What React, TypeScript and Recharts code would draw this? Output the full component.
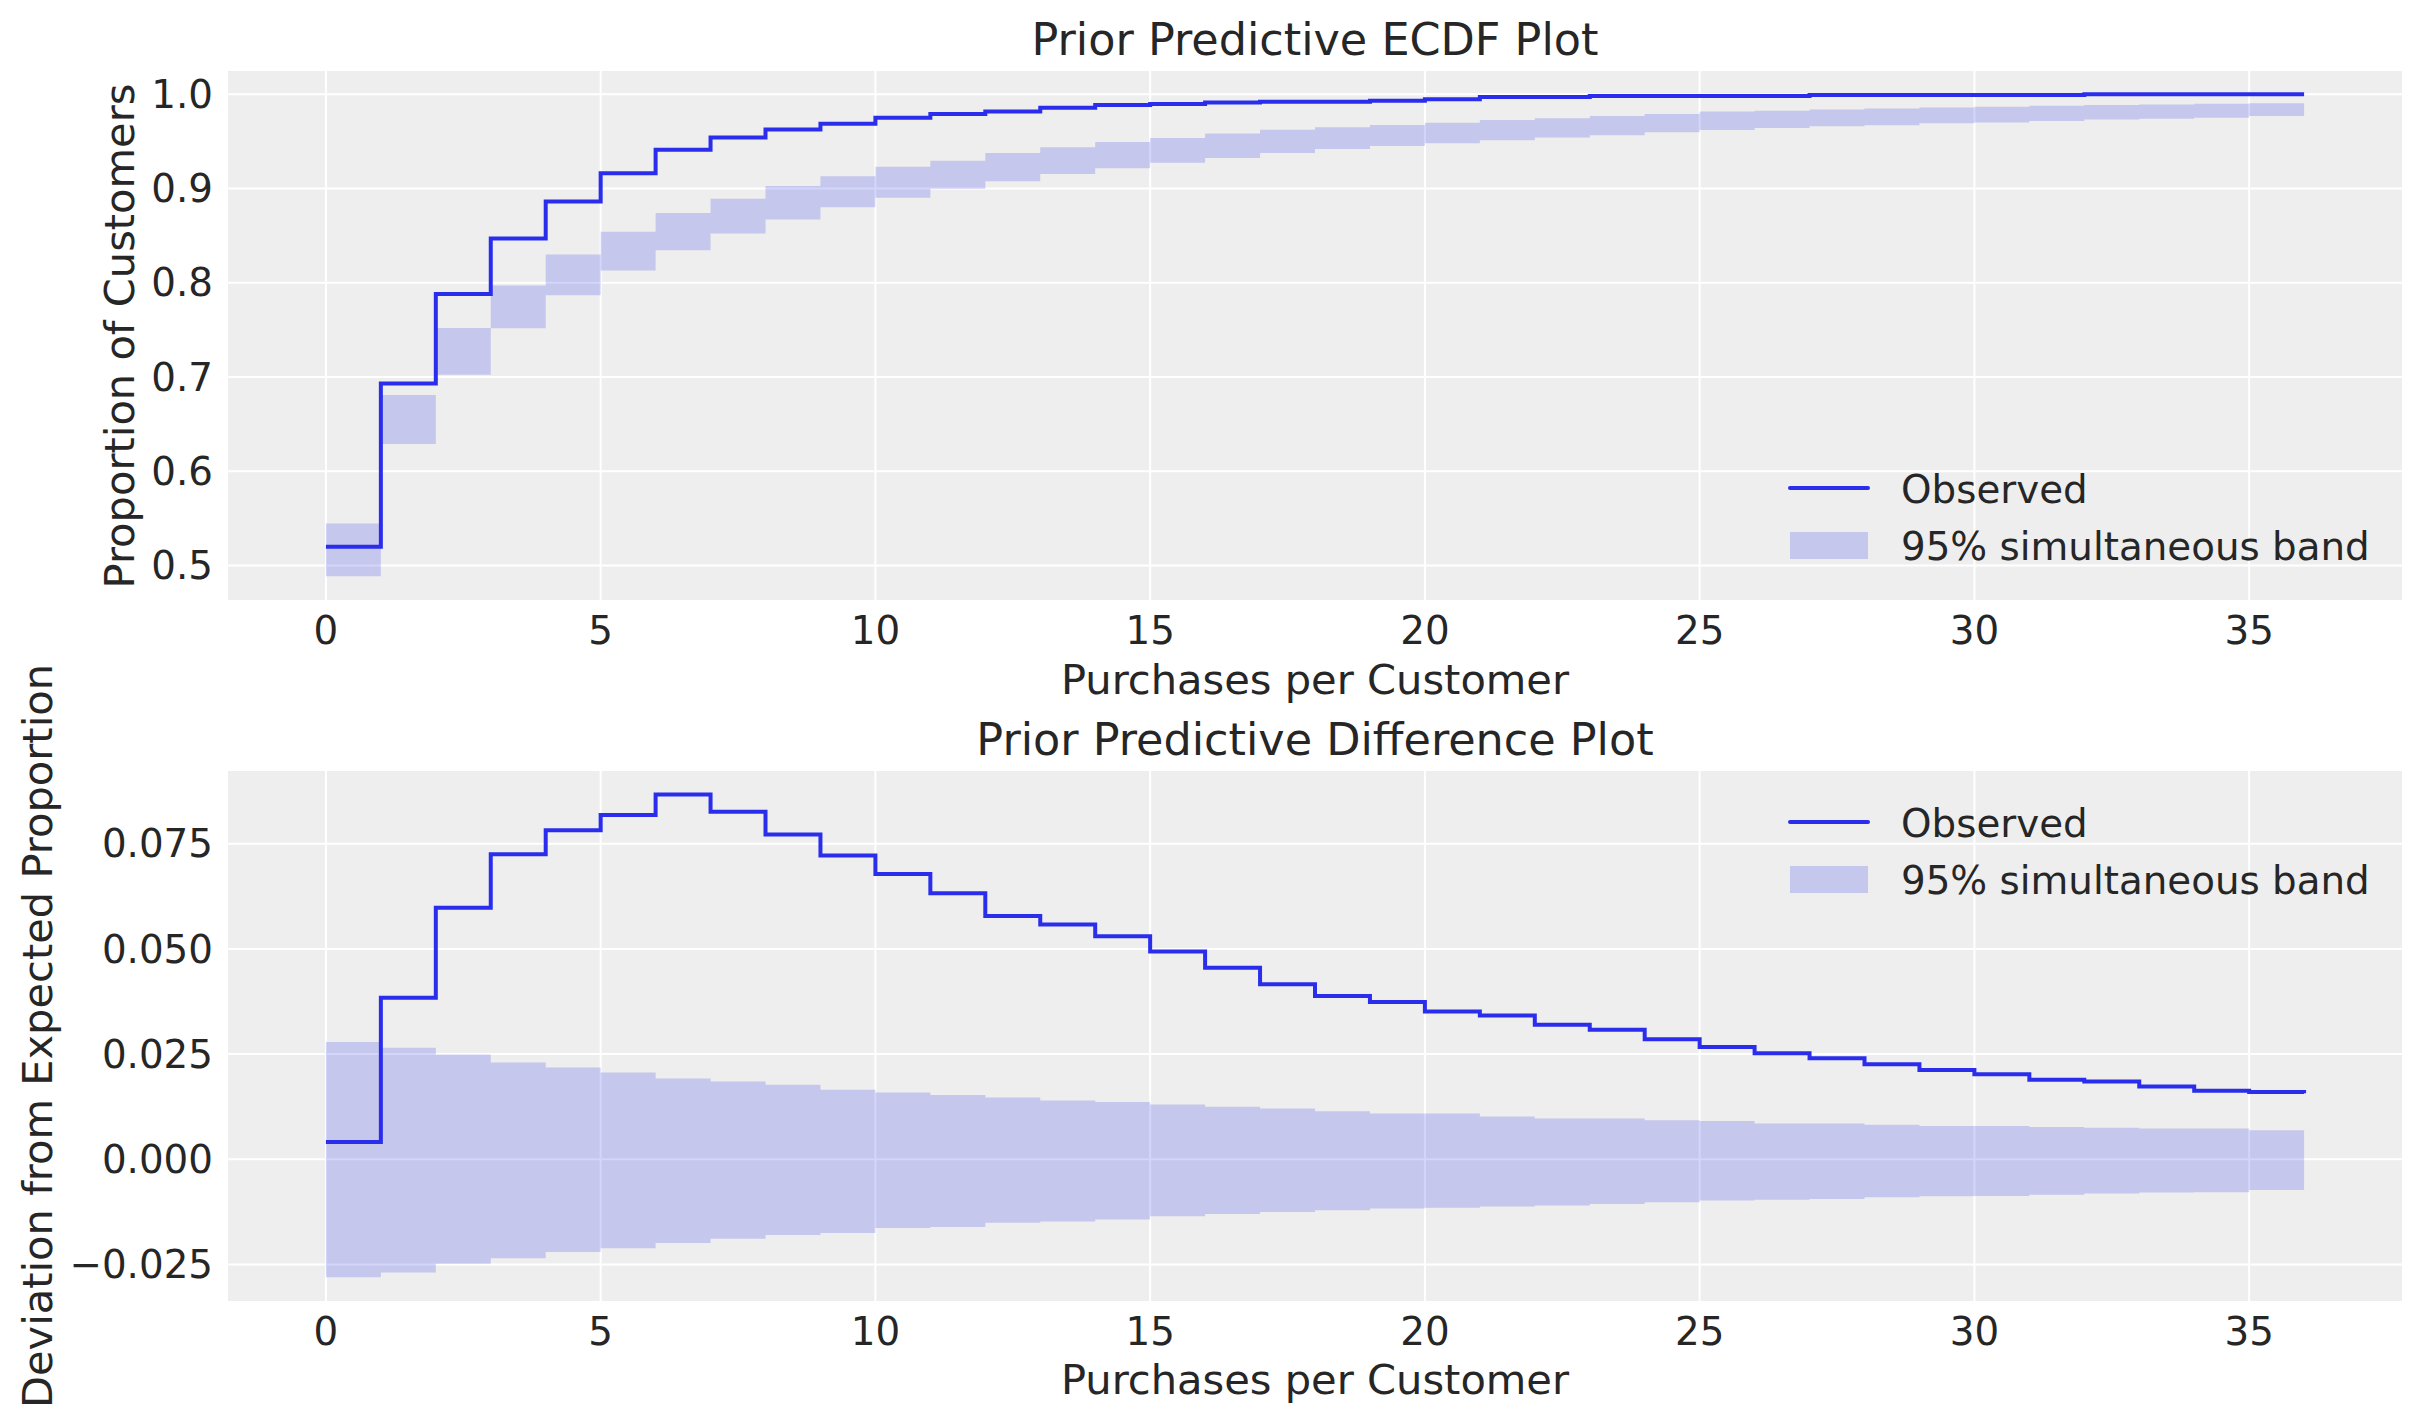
import React from "react";
import {
  ComposedChart,
  Area,
  Line,
  XAxis,
  YAxis,
  CartesianGrid,
} from "recharts";

// purchases per customer (step positions)
const purchases = [
  0, 1, 2, 3, 4, 5, 6, 7, 8, 9, 10, 11, 12, 13, 14, 15, 16, 17, 18, 19, 20,
  21, 22, 23, 24, 25, 26, 27, 28, 29, 30, 31, 32, 33, 34, 35, 36,
];

// top panel: ECDF
const ecdfObserved = [
  0.52, 0.693, 0.788, 0.847, 0.886, 0.916, 0.941, 0.954, 0.9625, 0.9687,
  0.975, 0.979, 0.9815, 0.9855, 0.9886, 0.9895, 0.991, 0.992, 0.992, 0.993,
  0.9945, 0.997, 0.997, 0.998, 0.998, 0.998, 0.998, 0.999, 0.999, 0.999,
  0.999, 0.999, 1.0, 1.0, 1.0, 1.0, 1.0,
];
const ecdfBandLow = [
  0.4887, 0.629, 0.7025, 0.7516, 0.7866, 0.813, 0.8344, 0.8523, 0.867, 0.88,
  0.89, 0.8997, 0.9077, 0.9153, 0.9214, 0.9271, 0.9323, 0.9375, 0.9417,
  0.945, 0.9479, 0.9512, 0.954, 0.9564, 0.9597, 0.962, 0.964, 0.966, 0.967,
  0.969, 0.97, 0.9716, 0.973, 0.974, 0.975, 0.9767, 0.9767,
];
const ecdfBandHigh = [
  0.5445, 0.681, 0.752, 0.797, 0.83, 0.854, 0.874, 0.889, 0.9025, 0.913,
  0.923, 0.9294, 0.9375, 0.9436, 0.9493, 0.9536, 0.9583, 0.9621, 0.9649,
  0.9673, 0.9696, 0.9725, 0.9744, 0.9767, 0.979, 0.9815, 0.9824, 0.9838,
  0.9848, 0.9857, 0.9867, 0.9876, 0.9886, 0.989, 0.9898, 0.9903, 0.9903,
];

// bottom panel: difference from expected
const diffObserved = [
  0.0041, 0.0384, 0.0598, 0.0725, 0.0782, 0.0818, 0.0867, 0.0826, 0.0772,
  0.0722, 0.0678, 0.0632, 0.0578, 0.0558, 0.053, 0.0494, 0.0455, 0.0416,
  0.0388, 0.0374, 0.0351, 0.0342, 0.032, 0.0308, 0.0285, 0.0267, 0.0252,
  0.024, 0.0226, 0.0212, 0.0202, 0.0189, 0.0185, 0.0173, 0.0163, 0.016,
  0.0157,
];
const diffBandHigh = [
  0.0279, 0.0265, 0.0249, 0.023, 0.0218, 0.0206, 0.0192, 0.0185, 0.0177,
  0.0165, 0.0159, 0.0153, 0.0147, 0.014, 0.0136, 0.013, 0.0125, 0.0121,
  0.0114, 0.0109, 0.0109, 0.0102, 0.0097, 0.0097, 0.0093, 0.0091, 0.0085,
  0.0085, 0.0082, 0.0079, 0.0079, 0.0077, 0.0075, 0.0073, 0.0073, 0.0069,
  0.0069,
];
const diffBandLow = [
  -0.028, -0.0269, -0.0248, -0.0235, -0.022, -0.0211, -0.0199, -0.0189,
  -0.018, -0.0175, -0.0163, -0.0161, -0.0151, -0.0148, -0.0143, -0.0135,
  -0.013, -0.0125, -0.0121, -0.0117, -0.0115, -0.0112, -0.011, -0.0106,
  -0.0102, -0.0098, -0.0096, -0.0094, -0.009, -0.0088, -0.0087, -0.0084,
  -0.0081, -0.0079, -0.0078, -0.0073, -0.0073,
];

const xTicks = [0, 5, 10, 15, 20, 25, 30, 35];
const ecdfTicks = [0.5, 0.6, 0.7, 0.8, 0.9, 1.0];
const diffTicks = [-0.025, 0, 0.025, 0.05, 0.075];

const BLUE = "#2a2eec";
const TEXT = "#262626";
const FONT = "DejaVu Sans";
const TICK_SIZE = 38.8;
const LABEL_SIZE = 41.6;
const TITLE_SIZE = 44.5;

const ecdfData = purchases.map((x, i) => ({
  x,
  observed: ecdfObserved[i],
  band: [ecdfBandLow[i], ecdfBandHigh[i]],
}));

const diffData = purchases.map((x, i) => ({
  x,
  observed: diffObserved[i],
  band: [diffBandLow[i], diffBandHigh[i]],
}));

const tickStyle = { fontSize: TICK_SIZE, fill: TEXT, fontFamily: FONT };

function fmtDiff(v: number) {
  const s = Math.abs(v).toFixed(3);
  return v < 0 ? "\u2212" + s : s;
}

function Panel({
  data,
  domain,
  ticks,
  fmt,
  height,
  marginBottom,
}: {
  data: any[];
  domain: [number, number];
  ticks: number[];
  fmt: (v: number) => string;
  height: number;
  marginBottom: number;
}) {
  return (
    <ComposedChart
      width={2423}
      height={height}
      data={data}
      margin={{ top: 70, right: 20, left: 107, bottom: marginBottom }}
    >
      <CartesianGrid
        stroke="#ffffff"
        strokeWidth={2}
        fill="#eeeeee"
        fillOpacity={1}
      />
      <XAxis
        dataKey="x"
        type="number"
        domain={[-1.8, 37.8]}
        ticks={xTicks}
        interval={0}
        axisLine={false}
        tickLine={false}
        tickSize={0}
        tickMargin={15}
        height={60}
        tick={tickStyle}
      />
      <YAxis
        type="number"
        domain={domain}
        ticks={ticks}
        interval={0}
        allowDataOverflow
        axisLine={false}
        tickLine={false}
        tickSize={0}
        tickMargin={14}
        width={120}
        tick={tickStyle}
        tickFormatter={fmt}
      />
      <Area
        dataKey="band"
        type="stepAfter"
        stroke="none"
        fill={BLUE}
        fillOpacity={0.2}
        isAnimationActive={false}
      />
      <Line
        dataKey="observed"
        type="stepAfter"
        stroke={BLUE}
        strokeWidth={4}
        dot={false}
        activeDot={false}
        isAnimationActive={false}
      />
    </ComposedChart>
  );
}

function LegendBlock({ lineY }: { lineY: number }) {
  return (
    <g>
      <line
        x1={1790}
        x2={1868}
        y1={lineY}
        y2={lineY}
        stroke={BLUE}
        strokeWidth={4}
        strokeLinecap="round"
      />
      <text x={1901} y={lineY + 15} fontSize={TICK_SIZE} fill={TEXT}>
        Observed
      </text>
      <rect
        x={1790}
        y={lineY + 44}
        width={78}
        height={27}
        fill={BLUE}
        fillOpacity={0.2}
      />
      <text x={1901} y={lineY + 72} fontSize={TICK_SIZE} fill={TEXT}>
        95% simultaneous band
      </text>
    </g>
  );
}

export default function App() {
  return (
    <div
      style={{
        position: "absolute",
        left: 0,
        top: 0,
        width: 2423,
        height: 1423,
        background: "#ffffff",
        fontFamily: FONT,
      }}
    >
      <div style={{ position: "absolute", left: 0, top: 0 }}>
        <Panel
          data={ecdfData}
          domain={[0.4624, 1.0256]}
          ticks={ecdfTicks}
          fmt={(v) => v.toFixed(1)}
          height={720}
          marginBottom={59}
        />
      </div>
      <div style={{ position: "absolute", left: 0, top: 700 }}>
        <Panel
          data={diffData}
          domain={[-0.0339, 0.0925]}
          ticks={diffTicks}
          fmt={fmtDiff}
          height={723}
          marginBottom={61}
        />
      </div>
      <svg
        width={2423}
        height={1423}
        style={{ position: "absolute", left: 0, top: 0, pointerEvents: "none" }}
        fontFamily={FONT}
      >
        <text
          x={1315}
          y={54.5}
          textAnchor="middle"
          fontSize={TITLE_SIZE}
          fill={TEXT}
        >
          Prior Predictive ECDF Plot
        </text>
        <text
          x={1315}
          y={694}
          textAnchor="middle"
          fontSize={LABEL_SIZE}
          fill={TEXT}
        >
          Purchases per Customer
        </text>
        <text
          x={134}
          y={336}
          transform="rotate(-90 134 336)"
          textAnchor="middle"
          fontSize={LABEL_SIZE}
          fill={TEXT}
        >
          Proportion of Customers
        </text>
        <LegendBlock lineY={488} />

        <text
          x={1315}
          y={754.5}
          textAnchor="middle"
          fontSize={TITLE_SIZE}
          fill={TEXT}
        >
          Prior Predictive Difference Plot
        </text>
        <text
          x={1315}
          y={1394}
          textAnchor="middle"
          fontSize={LABEL_SIZE}
          fill={TEXT}
        >
          Purchases per Customer
        </text>
        <text
          x={52}
          y={1036}
          transform="rotate(-90 52 1036)"
          textAnchor="middle"
          fontSize={LABEL_SIZE}
          fill={TEXT}
        >
          Deviation from Expected Proportion
        </text>
        <LegendBlock lineY={822} />
      </svg>
    </div>
  );
}
